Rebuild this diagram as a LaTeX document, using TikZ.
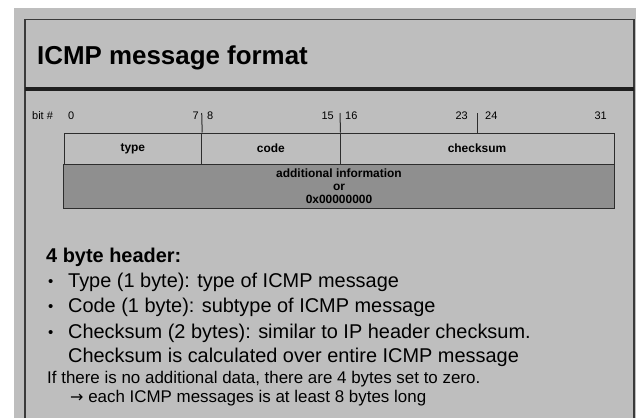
\documentclass[tikz,border=0pt]{standalone}
\usepackage{fontspec}
\setmainfont{Liberation Sans}
\newfontfamily\arrowfont{DejaVu Sans}
\definecolor{bg}{RGB}{190,190,190}
\definecolor{darkcell}{RGB}{143,143,143}
\definecolor{framecol}{RGB}{58,58,58}
\definecolor{linecol}{RGB}{45,45,45}
\begin{document}
\begin{tikzpicture}[x=1bp,y=-1bp,
  bitn/.style={inner sep=0, font=\fontsize{11}{12}\selectfont},
  cell/.style={draw=linecol, line width=1bp, inner sep=0, font=\fontsize{12}{13}\selectfont\bfseries},
  bodytext/.style={inner sep=0, anchor=base west, font=\fontsize{20}{24}\selectfont},
  smalltext/.style={inner sep=0, anchor=base west, font=\fontsize{17}{20}\selectfont},
  bulletmark/.style={inner sep=0, anchor=base west, font=\fontsize{15}{18}\selectfont},
  tick/.style={draw=linecol, line width=1bp}
]
\useasboundingbox (0,0) rectangle (637,418);
\fill[white] (0,0) rectangle (637,418);
\fill[bg] (14,8) rectangle (636,418);
\draw[framecol, line width=1.5bp] (25,418) -- (25,19.5) -- (634,19.5) -- (634,418);
\draw[line width=4bp, black!88] (25,89) -- (634,89);

\node[inner sep=0, anchor=base west, font=\fontsize{26}{30}\selectfont\bfseries] (title) at (37,64) {ICMP message format};

% bit numbers
\node[bitn, anchor=base west] (bitlbl) at (32,119) {bit \#};
\node[bitn, anchor=base west] (b0) at (68,119) {0};
\node[bitn, anchor=base east] (b7) at (199,119) {7};
\node[bitn, anchor=base west] (b8) at (207,119) {8};
\node[bitn, anchor=base east] (b15) at (334,119) {15};
\node[bitn, anchor=base west] (b16) at (345,119) {16};
\node[bitn, anchor=base east] (b23) at (468,119) {23};
\node[bitn, anchor=base west] (b24) at (485,119) {24};
\node[bitn, anchor=base east] (b31) at (607,119) {31};

% cells
\node[cell, minimum width=137.7bp, minimum height=31bp] (type) at (132.85,148.5) {type};
\node[cell, minimum width=138.3bp, minimum height=31bp] (code) at (270.85,148.5) {code};
\node[cell, minimum width=274bp, minimum height=31bp] (checksum) at (477,148.5) {checksum};
\node[cell, fill=darkcell, minimum width=550bp, minimum height=44bp, align=center,
      font=\fontsize{12}{13}\selectfont\bfseries] (addinfo) at (339,186)
      {additional information\\or\\0x00000000};

% ticks
\coordinate (t8) at (201.7,113);
\coordinate (t16) at (340,113);
\coordinate (t24) at (477,113);
\draw[tick] (t8) -- (type.north east);
\draw[tick] (t16) -- (code.north east);
\draw[tick] (t24) -- (checksum.north);

% text
\node[inner sep=0, anchor=base west, font=\fontsize{20}{24}\selectfont\bfseries] (hdr) at (46,262) {4 byte header:};
\node[bulletmark] (m1) at (48,286) {•};
\node[bodytext] (l1) at (68,287) {Type (1 byte): type of ICMP message};
\node[bulletmark] (m2) at (48,311) {•};
\node[bodytext] (l2) at (68,312) {Code (1 byte): subtype of ICMP message};
\node[bulletmark] (m3) at (48,337) {•};
\node[bodytext] (l3) at (68,338) {Checksum (2 bytes): similar to IP header checksum.};
\node[bodytext] (l4) at (68,362) {Checksum is calculated over entire ICMP message};
\node[smalltext] (s1) at (47,383) {If there is no additional data, there are 4 bytes set to zero.};
\node[smalltext] (s2) at (70,402) {{\arrowfont\fontsize{16}{18}\selectfont →} each ICMP messages is at least 8 bytes long};
\end{tikzpicture}
\end{document}
